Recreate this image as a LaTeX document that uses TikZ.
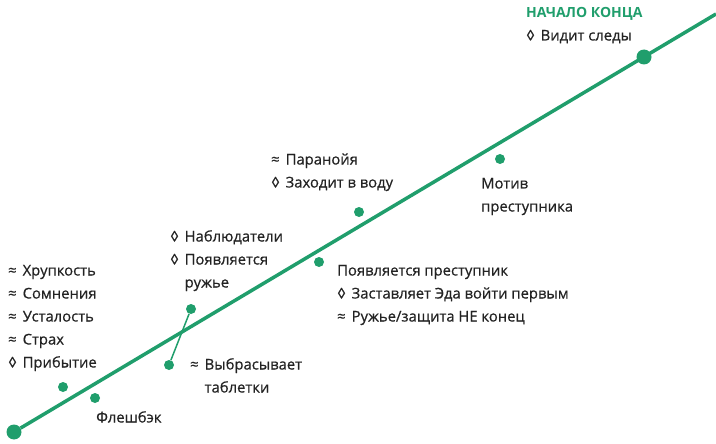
\documentclass[tikz,border=0pt]{standalone}
\usepackage{fontspec}
\setmainfont{Open Sans}
\newfontfamily\itemfont{Open Sans}[FakeBold=0.6]
\usetikzlibrary{positioning}
\definecolor{plotgreen}{RGB}{32,158,108}
\definecolor{itemgray}{RGB}{35,35,35}
\newcommand\sym[1]{\makebox[14.5pt][l]{#1}}

\begin{document}
\begin{tikzpicture}[x=1pt,y=-1pt,node distance=23pt,
    dot/.style={circle,fill=plotgreen,inner sep=0pt,minimum size=10pt},
    bigdot/.style={dot,minimum size=15pt},
    item/.style={anchor=west,inner sep=0pt,text height=10pt,text depth=3pt,
      text=itemgray,font=\itemfont\fontsize{14.8}{16}\selectfont},
    nextline/.style={below=of #1.west,anchor=west},
    plotline/.style={draw=plotgreen,line width=3.5pt},
    twist/.style={draw=plotgreen,line width=1.5pt}]
      \useasboundingbox (0,0) rectangle (716,444);
      % dots on the plot line
      \node[bigdot] (start) at (14,432) {};
      \node[bigdot] (climax) at (644,57) {};
      \coordinate (lineend) at (716,14);
      \node[dot] (arrival) at (63,387) {};
      \node[dot] (flashback) at (95,398) {};
      \node[dot] (pills) at (169,365) {};
      \node[dot] (gun) at (191,309) {};
      \node[dot] (killer) at (319,262) {};
      \node[dot] (water) at (359,212) {};
      \node[dot] (motive) at (500,159) {};
      \draw[plotline] (start) -- (lineend);
      \draw[twist] (gun) -- (pills);
      % left list
      \node[item] (fragile) at (8,272) {\sym{≈}Хрупкость};
      \node[item] (doubt) [nextline=fragile] {\sym{≈}Сомнения};
      \node[item] (tired) [nextline=doubt] {\sym{≈}Усталость};
      \node[item] (fear) [nextline=tired] {\sym{≈}Страх};
      \node[item] (arrive) [nextline=fear] {\sym{◊}Прибытие};
      \node[item] (flash) at (96,419) {Флешбэк};
      % middle
      \node[item] (watchers) at (170,238) {\sym{◊}Наблюдатели};
      \node[item] (gunin) [nextline=watchers] {\sym{◊}Появляется};
      \node[item] (gunin2) [nextline=gunin] {\sym{}ружье};
      \node[item] (throw) at (190,366) {\sym{≈}Выбрасывает};
      \node[item] (throw2) [nextline=throw] {\sym{}таблетки};
      \node[item] (paranoia) at (271,161) {\sym{≈}Паранойя};
      \node[item] (wade) [nextline=paranoia] {\sym{◊}Заходит в воду};
      \node[item] (villain) at (337,272) {Появляется преступник};
      \node[item] (forces) [nextline=villain] {\sym{◊}Заставляет Эда войти первым};
      \node[item] (notend) [nextline=forces] {\sym{≈}Ружье/защита НЕ конец};
      \node[item] (why) at (481,185) {Мотив};
      \node[item] (why2) [nextline=why] {преступника};
      % top right
      \node[item,text=plotgreen,font=\fontsize{14}{16}\selectfont\bfseries] (endstart) at (526,14) {НАЧАЛО КОНЦА};
      \node[item] (tracks) [nextline=endstart] {\sym{◊}Видит следы};
\end{tikzpicture}
\end{document}
